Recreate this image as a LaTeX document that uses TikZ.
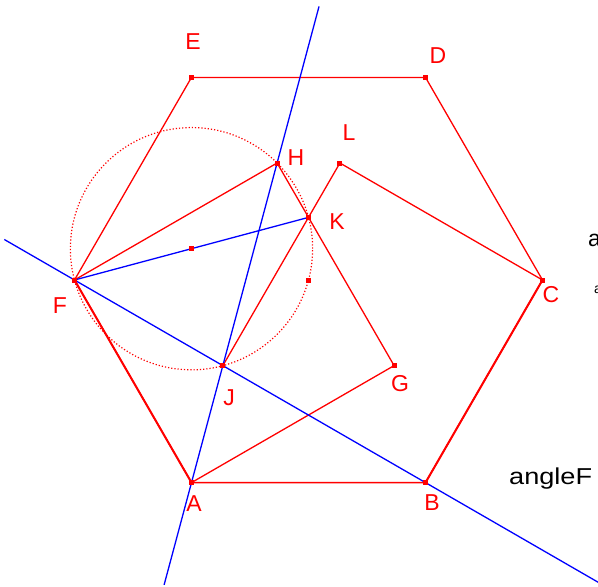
\documentclass[tikz,border=0pt]{standalone}
\usepackage{fontspec}
\setmainfont{Liberation Sans}
\usetikzlibrary{calc}
\tikzstyle{seg} = [red, line width=1.3pt]
\tikzstyle{ray} = [blue, line width=1.3pt]
\tikzstyle{pt} = [rectangle, fill=red, inner sep=0pt, minimum size=5pt]
\tikzstyle{lbl} = [red, font=\fontsize{23}{27}\selectfont]

\begin{document}
\begin{tikzpicture}[x=1pt, y=-1pt]
    \useasboundingbox (0,0) rectangle (598,587);
    \clip (0,0) rectangle (598,587);

    % Hexagon
    \coordinate (A) at (191.5,482.6);
    \coordinate (B) at (425.5,482.6);
    \coordinate (C) at (542.5,280);
    \coordinate (D) at (425.5,77.4);
    \coordinate (E) at (191.5,77.4);
    \coordinate (F) at (74.5,280);
    \coordinate (O) at (308.5,280);

    % Squares on AF and BC
    \coordinate (G) at (394.1,365.6);
    \coordinate (H) at ($(G)+(F)-(A)$);
    \coordinate (L) at (339.9,163);
    \coordinate (J) at ($(B)+(L)-(C)$);
    \coordinate (K) at (intersection of G--H and J--L);
    \coordinate (M) at ($(F)!0.5!(K)$);

    \draw[seg] (A) -- (B) -- (C) -- (D) -- (E) -- (F) -- cycle;
    \draw[seg, line width=2pt] (B) -- (C);
    \draw[seg, line width=2pt] (F) -- (A);
    \draw[seg] (A) -- (G) -- (H) -- (F);
    \draw[seg] (J) -- (L) -- (C);

    % Circle on diameter FK
    \draw[red, line width=1.2pt, dotted] let \p1 = ($(F)-(M)$) in (M) circle ({veclen(\x1,\y1)});

    % Lines FB and AH, segment FK
    \draw[ray] ($(F)!-0.2!(B)$) -- ($(F)!1.53!(B)$);
    \draw[ray] ($(A)!-0.32!(H)$) -- ($(A)!1.49!(H)$);
    \draw[ray] (F) -- (K);

    \foreach \p in {A,B,C,D,E,F,G,H,J,K,L,M,O} {
        \node[pt] (p\p) at (\p) {};
    }

    % Labels
    \node[lbl] (lA) at (194,504) {A};
    \node[lbl] (lB) at (432,503) {B};
    \node[lbl] (lC) at (551,295) {C};
    \node[lbl] (lD) at (438,56) {D};
    \node[lbl] (lE) at (193,42) {E};
    \node[lbl] (lF) at (60,306) {F};
    \node[lbl] (lG) at (400,384) {G};
    \node[lbl] (lH) at (296,158) {H};
    \node[lbl] (lJ) at (229,398) {J};
    \node[lbl] (lK) at (337,222) {K};
    \node[lbl] (lL) at (349,133) {L};

    \node[anchor=west, inner sep=0pt, font=\fontsize{23}{27}\selectfont] (ta) at (588,240) {a};
    \node[anchor=west, inner sep=0pt, font=\fontsize{14}{16}\selectfont] (tb) at (594,290) {a};
    \node[anchor=west, inner sep=0pt, font=\fontsize{23}{27}\selectfont] (tangle) at (509,479) {\scalebox{1.18}[1]{angleF}};
\end{tikzpicture}
\end{document}
